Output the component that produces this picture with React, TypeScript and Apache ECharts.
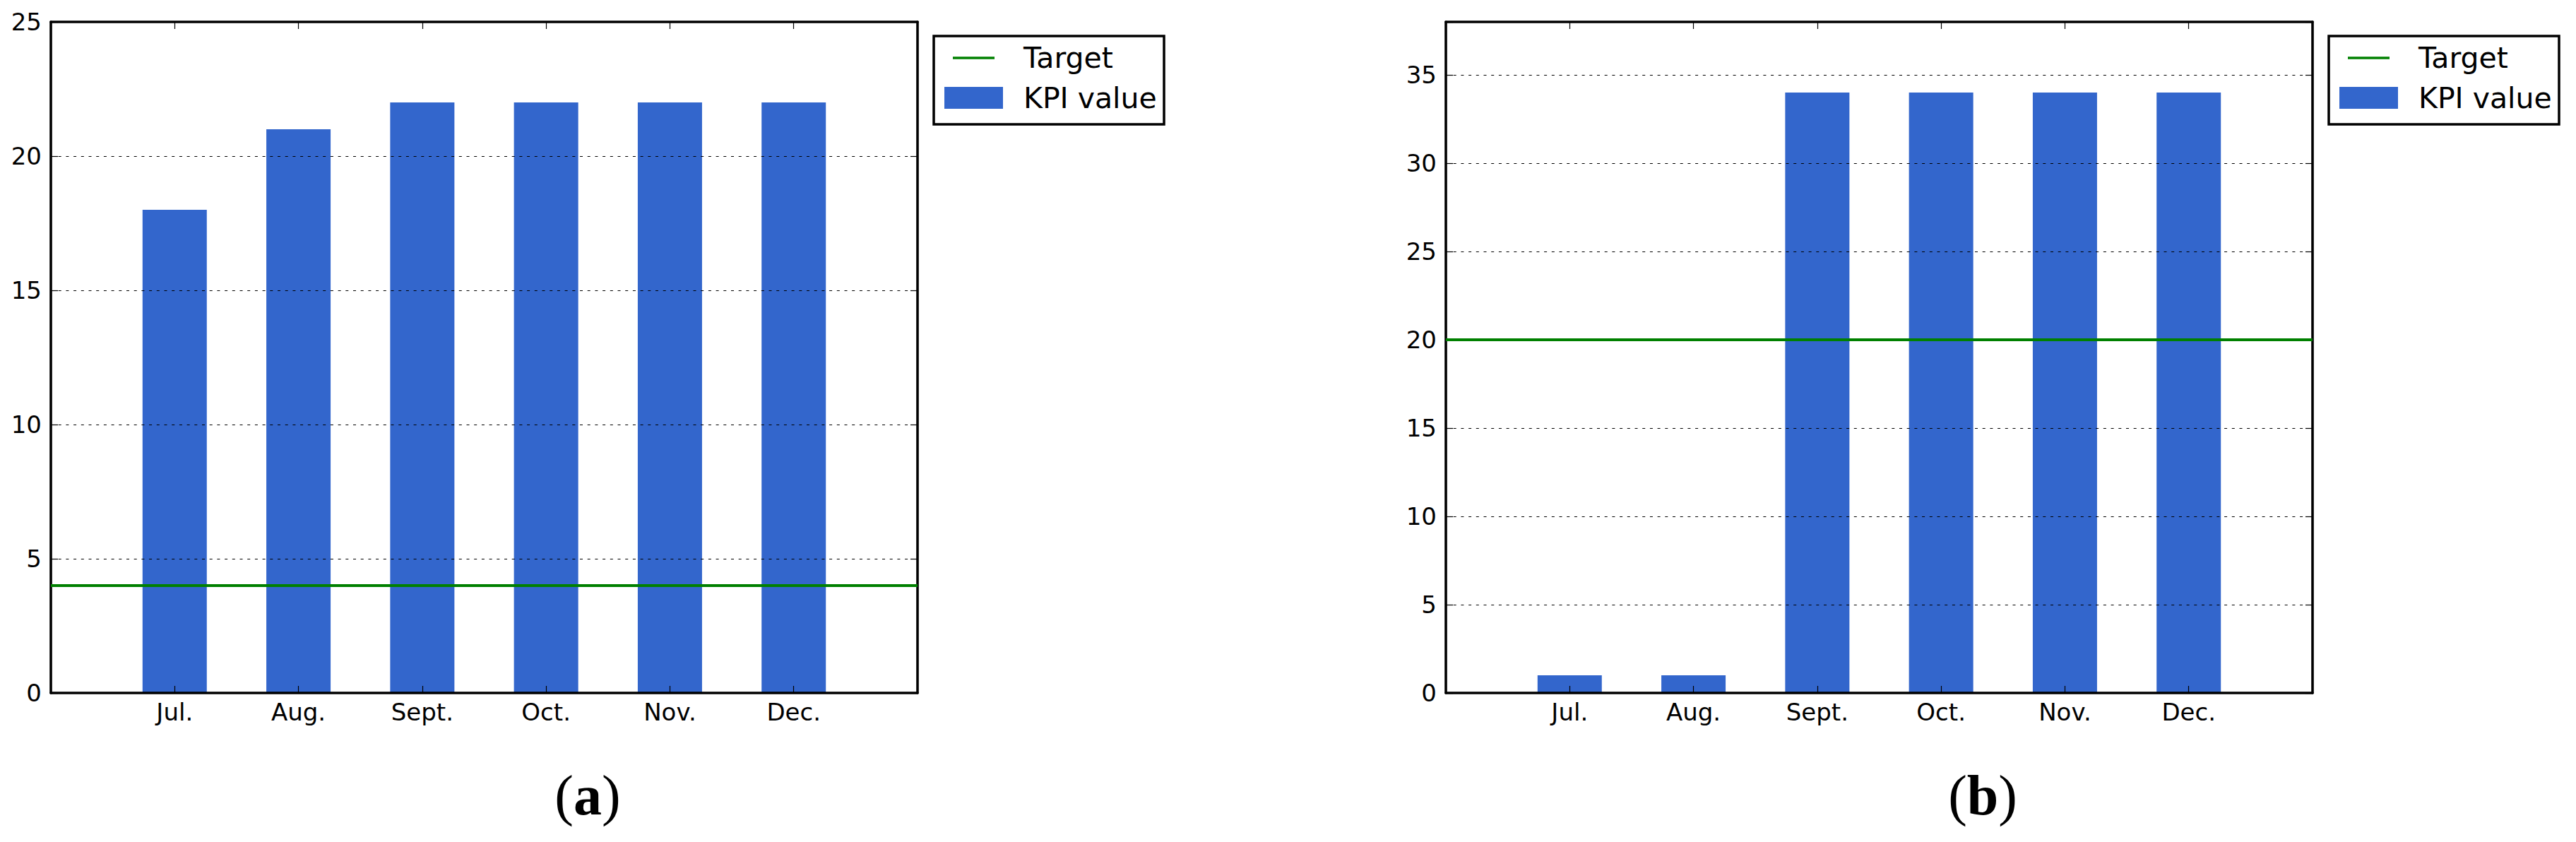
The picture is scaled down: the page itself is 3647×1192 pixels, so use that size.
import React, { useEffect, useRef } from "react";
import * as echarts from "echarts";

const categories = ["Jul.", "Aug.", "Sept.", "Oct.", "Nov.", "Dec."];
const kpiA = [18, 21, 22, 22, 22, 22];
const kpiB = [1, 1, 34, 34, 34, 34];
const targetA = 4;
const targetB = 20;
const yMaxA = 25;
const yMaxB = 38;
const yTicksInterval = 5;
const legendNames = ["Target", "KPI value"];
const captions = ["a", "b"];

const BLUE = "#3366CC";
const GREEN = "#008000";
const FONT = "DejaVu Sans";

const X_MIN = -1;
const X_MAX = 6;

const panels = [
  { left: 72, top: 31, width: 1227, height: 950, yMax: yMaxA, values: kpiA, target: targetA, legendX: 1322, caption: captions[0], captionX: 832 },
  { left: 2047, top: 31, width: 1227, height: 950, yMax: yMaxB, values: kpiB, target: targetB, legendX: 3297, caption: captions[1], captionX: 2807 },
];

function buildOption() {
  const grid: any[] = [];
  const xAxis: any[] = [];
  const yAxis: any[] = [];
  const series: any[] = [];
  const graphic: any[] = [];
  const catIdx = categories.map((_, i) => i);

  panels.forEach((p, gi) => {
    grid.push({ left: p.left, top: p.top, width: p.width, height: p.height, containLabel: false });
    const axisLine = { show: true, onZero: false, lineStyle: { color: "#000", width: 3.6 } };
    const tick = { show: true, inside: true, length: 10, lineStyle: { color: "#000", width: 1.2 } };
    xAxis.push({
      type: "value", gridIndex: gi, min: X_MIN, max: X_MAX, position: "bottom", z: 3,
      axisLine,
      axisTick: { ...tick, customValues: catIdx },
      axisLabel: {
        show: true, customValues: catIdx, formatter: (v: number) => categories[Math.round(v)] ?? "",
        fontSize: 34, fontFamily: FONT, color: "#000", margin: 10,
      },
      splitLine: { show: false },
    });
    xAxis.push({
      type: "value", gridIndex: gi, min: X_MIN, max: X_MAX, position: "top", z: 3,
      axisLine,
      axisTick: { ...tick, customValues: catIdx },
      axisLabel: { show: false },
      splitLine: { show: false },
    });
    yAxis.push({
      type: "value", gridIndex: gi, min: 0, max: p.yMax, interval: yTicksInterval, position: "left", z: 3,
      axisLine,
      axisTick: tick,
      axisLabel: {
        fontSize: 34, fontFamily: FONT, color: "#000", margin: 13,
        formatter: (v: number) => (v % yTicksInterval === 0 ? String(v) : ""),
      },
      splitLine: { show: true, lineStyle: { color: "#000", width: 1.2, type: [4, 6.7] } },
    });
    yAxis.push({
      type: "value", gridIndex: gi, min: 0, max: p.yMax, interval: yTicksInterval, position: "right", z: 3,
      axisLine,
      axisTick: tick,
      axisLabel: { show: false },
      splitLine: { show: false },
    });
    series.push({
      type: "bar",
      name: legendNames[1],
      xAxisIndex: gi * 2,
      yAxisIndex: gi * 2,
      data: p.values.map((v, i) => [i, v]),
      barWidth: 91,
      itemStyle: { color: BLUE },
      markLine: {
        silent: true,
        symbol: ["none", "none"],
        label: { show: false },
        lineStyle: { color: GREEN, width: 4, type: "solid" },
        data: [{ name: legendNames[0], yAxis: p.target }],
      },
    });

    // Legend box
    const lx = p.legendX;
    graphic.push({
      type: "rect", shape: { x: lx, y: 51, width: 326, height: 125 },
      style: { fill: "#fff", stroke: "#000", lineWidth: 3.5 }, z: 10,
    });
    graphic.push({
      type: "line", shape: { x1: lx + 27, y1: 82, x2: lx + 86, y2: 82 },
      style: { stroke: GREEN, lineWidth: 3.5 }, z: 11,
    });
    graphic.push({
      type: "rect", shape: { x: lx + 15, y: 123, width: 83, height: 31 },
      style: { fill: BLUE }, z: 11,
    });
    graphic.push({
      type: "text", x: lx + 127, y: 82, z: 11,
      style: { text: legendNames[0], fontSize: 41, fontFamily: FONT, fill: "#000", align: "left", verticalAlign: "middle" },
    });
    graphic.push({
      type: "text", x: lx + 127, y: 139, z: 11,
      style: { text: legendNames[1], fontSize: 41, fontFamily: FONT, fill: "#000", align: "left", verticalAlign: "middle" },
    });
    graphic.push({
      type: "text", x: p.captionX, y: 1126, z: 11,
      style: {
        text: "{n|(}{b|" + p.caption + "}{n|)}",
        align: "center", verticalAlign: "middle",
        rich: {
          n: { fontSize: 80, fontFamily: "Liberation Serif", fill: "#000" },
          b: { fontSize: 80, fontFamily: "Liberation Serif", fontWeight: "bold", fill: "#000" },
        },
      },
    });
  });

  return { animation: false, backgroundColor: "#fff", grid, xAxis, yAxis, series, graphic };
}

export default function App() {
  const ref = useRef<HTMLDivElement>(null);
  useEffect(() => {
    if (!ref.current) return;
    const chart = echarts.init(ref.current, undefined, { renderer: "svg" });
    chart.setOption(buildOption() as any);
    return () => chart.dispose();
  }, []);
  return (
    <div
      ref={ref}
      style={{ position: "absolute", left: 0, top: 0, width: 3647, height: 1192, background: "#fff" }}
    />
  );
}
